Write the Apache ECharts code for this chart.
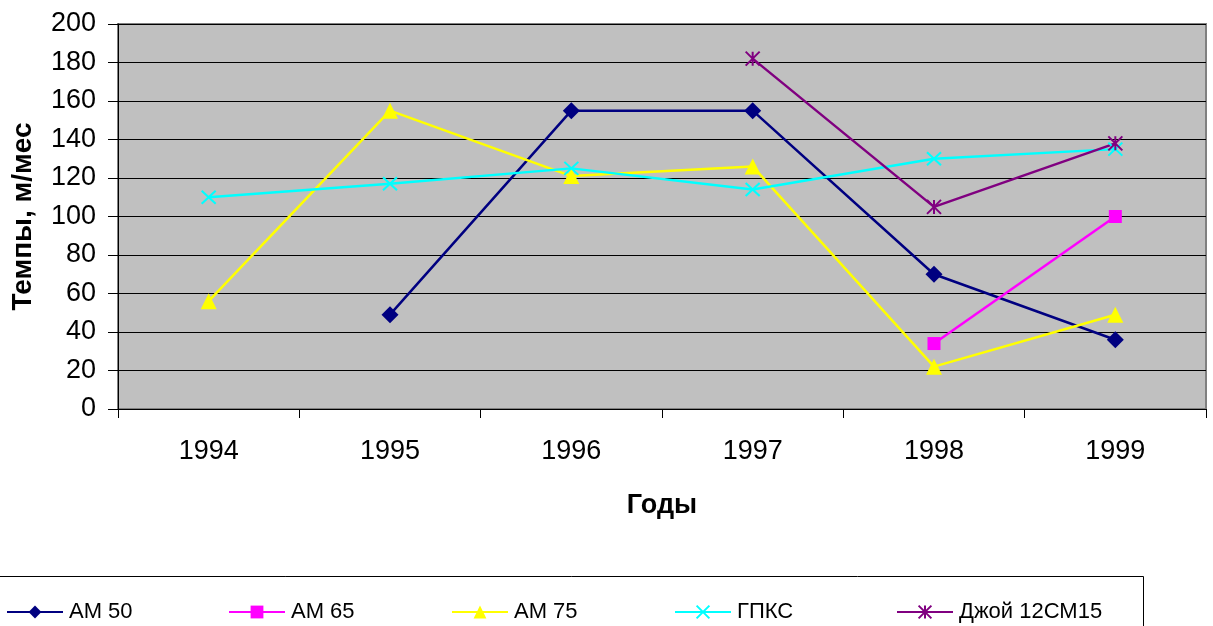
<!DOCTYPE html>
<html>
<head>
<meta charset="utf-8">
<script src="https://cdn.jsdelivr.net/npm/echarts@6/dist/echarts.min.js"></script>
<style>
  html, body { margin: 0; padding: 0; background: #fff; }
  #chart { width: 1213px; height: 626px; }
</style>
</head>
<body>
<div id="chart"></div>
<script>
// Years on the horizontal axis
const years = ['1994', '1995', '1996', '1997', '1998', '1999'];

// Rates, m/month, per machine type (null = no data for that year)
const am50  = [null, 49, 155, 155, 70, 36];
const am65  = [null, null, null, null, 34, 100];
const am75  = [56, 155, 121, 126, 22, 49];
const gpks  = [110, 117, 125, 114, 130, 135];
const joy12 = [null, null, null, 182, 105, 138];

const seriesNames = ['AM 50', 'AM 65', 'AM 75', 'ГПКС', 'Джой 12СМ15'];

const FONT = '"Liberation Sans", Arial, sans-serif';

// Stroked marker shapes: a cross and an asterisk
const crossPath = 'path://M0,0L10,10M10,0L0,10';
const starPath = 'path://M0,0L10,10M10,0L0,10M5,0L5,10';

function lineSeries(name, data, color, symbol, size, stroked) {
  return {
    name: name,
    type: 'line',
    data: data,
    symbol: symbol,
    symbolSize: size,
    showAllSymbol: true,
    connectNulls: false,
    lineStyle: { color: color, width: 2.5 },
    itemStyle: stroked
      ? { color: 'none', borderColor: color, borderWidth: 2 }
      : { color: color, borderWidth: 0 },
    emphasis: { disabled: true },
    animation: false,
    z: 3
  };
}

const legendLefts = [6, 228, 451, 674, 896];

const chart = echarts.init(document.getElementById('chart'), null, { renderer: 'canvas' });
chart.setOption({
  backgroundColor: '#ffffff',
  animation: false,
  grid: {
    left: 118, top: 24, right: 7, bottom: 217,
    show: true,
    backgroundColor: '#C0C0C0',
    borderColor: '#808080',
    borderWidth: 2
  },
  xAxis: {
    type: 'category',
    data: years,
    boundaryGap: true,
    axisLine: { show: true, lineStyle: { color: '#000', width: 1 } },
    axisTick: { show: true, length: 9, inside: false, lineStyle: { color: '#000' } },
    axisLabel: { color: '#000', fontSize: 27, fontFamily: FONT, margin: 29 },
    splitLine: { show: false },
    name: 'Годы',
    nameLocation: 'middle',
    nameGap: 83,
    nameTextStyle: { color: '#000', fontSize: 27, fontWeight: 'bold', fontFamily: FONT }
  },
  yAxis: {
    type: 'value',
    min: 0, max: 200, interval: 20,
    axisLine: { show: true, lineStyle: { color: '#000', width: 1 } },
    axisTick: { show: true, length: 10, inside: false, lineStyle: { color: '#000' } },
    axisLabel: { color: '#000', fontSize: 27, fontFamily: FONT, margin: 22 },
    splitLine: { show: true, lineStyle: { color: '#000', width: 1 } },
    name: 'Темпы, м/мес',
    nameLocation: 'middle',
    nameGap: 81,
    nameRotate: 90,
    nameTextStyle: { color: '#000', fontSize: 28, fontWeight: 'bold', fontFamily: FONT }
  },
  legend: seriesNames.map((n, i) => ({
    data: [n],
    left: legendLefts[i],
    top: 601,
    itemWidth: 56,
    itemHeight: 16,
    padding: 0,
    selectedMode: false,
    textStyle: { color: '#000', fontSize: 22, fontFamily: FONT, padding: [0, 0, 0, 1] }
  })),
  graphic: [{
    type: 'rect',
    shape: { x: -1.5, y: 576.5, width: 1145, height: 80 },
    style: { fill: 'none', stroke: '#000', lineWidth: 1 },
    silent: true,
    z: 0
  }],
  series: [
    lineSeries(seriesNames[0], am50, '#000080', 'diamond', 17, false),
    lineSeries(seriesNames[1], am65, '#FF00FF', 'rect', 13, false),
    lineSeries(seriesNames[2], am75, '#FFFF00', 'triangle', [16, 16], false),
    lineSeries(seriesNames[3], gpks, '#00FFFF', crossPath, [14, 13], true),
    lineSeries(seriesNames[4], joy12, '#800080', starPath, [14, 14], true)
  ]
});
</script>
</body>
</html>
